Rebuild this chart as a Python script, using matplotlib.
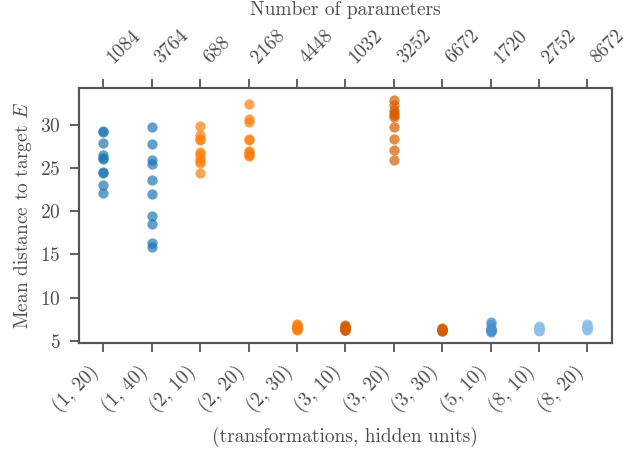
import numpy as np
import matplotlib
matplotlib.use('Agg')
import matplotlib.pyplot as plt

matplotlib.rcParams['font.family'] = 'serif'
matplotlib.rcParams['font.serif'] = ['cmr10', 'DejaVu Serif']
matplotlib.rcParams['mathtext.fontset'] = 'cm'
matplotlib.rcParams['axes.formatter.use_mathtext'] = True
matplotlib.rcParams['axes.unicode_minus'] = False

configs = ['(1, 20)', '(1, 40)', '(2, 10)', '(2, 20)', '(2, 30)', '(3, 10)',
           '(3, 20)', '(3, 30)', '(5, 10)', '(8, 10)', '(8, 20)']
n_params = ['1084', '3764', '688', '2168', '4448', '1032', '3252', '6672',
            '1720', '2752', '8672']

# mean distance to target E, one value per run
d_1_20 = [29.3, 29.2, 27.95, 26.5, 26.2, 26.1, 24.6, 24.4, 23.0, 22.1]
d_1_40 = [29.75, 27.8, 25.9, 25.5, 23.6, 22.0, 19.45, 18.5, 16.3, 15.9]
d_2_10 = [29.9, 28.8, 28.4, 28.3, 26.9, 26.6, 26.2, 25.8, 25.6, 24.4]
d_2_20 = [32.4, 30.7, 30.3, 28.4, 28.3, 27.0, 26.9, 26.7, 26.5, 26.4]
d_2_30 = [6.9, 6.8, 6.7, 6.6, 6.6, 6.5, 6.5, 6.4, 6.4, 6.3]
d_3_10 = [6.8, 6.7, 6.6, 6.5, 6.5, 6.4, 6.4, 6.3, 6.3, 6.2]
d_3_20 = [32.95, 32.3, 31.8, 31.35, 31.15, 30.95, 29.75, 28.35, 27.1, 25.9]
d_3_30 = [6.45, 6.4, 6.35, 6.3, 6.3, 6.25, 6.2, 6.2, 6.15, 6.1]
d_5_10 = [7.2, 6.9, 6.5, 6.4, 6.3, 6.3, 6.2, 6.2, 6.1, 6.0]
d_8_10 = [6.7, 6.6, 6.5, 6.4, 6.4, 6.3, 6.3, 6.2, 6.2, 6.1]
d_8_20 = [6.9, 6.8, 6.7, 6.6, 6.6, 6.5, 6.5, 6.4, 6.4, 6.3]

all_runs = [d_1_20, d_1_40, d_2_10, d_2_20, d_2_30, d_3_10,
            d_3_20, d_3_30, d_5_10, d_8_10, d_8_20]
colors = ['#1f77b4', '#1f77b4', '#ff7f0e', '#ff7f0e', '#ff7f0e', '#d55e00',
          '#d55e00', '#d55e00', '#4a90cc', '#8ec0ea', '#8ec0ea']

txt = '#4d4d4d'
spine_c = '#555555'
fs = 14

fig, ax = plt.subplots(figsize=(6.41, 4.5), dpi=100)
plt.subplots_adjust(left=0.1233, right=0.9543, top=0.8038, bottom=0.2384)

for i, runs in enumerate(all_runs):
    ax.scatter(np.full(len(runs), i), runs, s=55, color=colors[i],
               alpha=0.7, linewidths=0, zorder=3)

ax.set_xlim(-0.5, len(configs) - 0.5)
ax.set_ylim(4.77, 34.26)
ax.set_xticks(range(len(configs)))
ax.set_xticklabels(configs, rotation=45, ha='right')
ax.set_yticks([5, 10, 15, 20, 25, 30])
ax.set_ylabel('Mean distance to target $E$', color=txt, fontsize=fs, labelpad=4)
ax.set_xlabel('(transformations, hidden units)', color=txt, fontsize=fs, labelpad=8)

ax2 = ax.twiny()
ax2.set_xlim(ax.get_xlim())
ax2.set_xticks(range(len(configs)))
ax2.set_xticklabels(n_params, rotation=45, ha='left')
ax2.set_xlabel('Number of parameters', color=txt, fontsize=fs, labelpad=8)

for a in (ax, ax2):
    for sp in a.spines.values():
        sp.set_color(spine_c)
        sp.set_linewidth(1.5)
    a.tick_params(colors=spine_c, labelcolor=txt, labelsize=fs,
                  length=6.5, width=1.3, direction='out', pad=7)
ax2.tick_params(axis='x', pad=9)

plt.savefig('out.png', dpi=100)
